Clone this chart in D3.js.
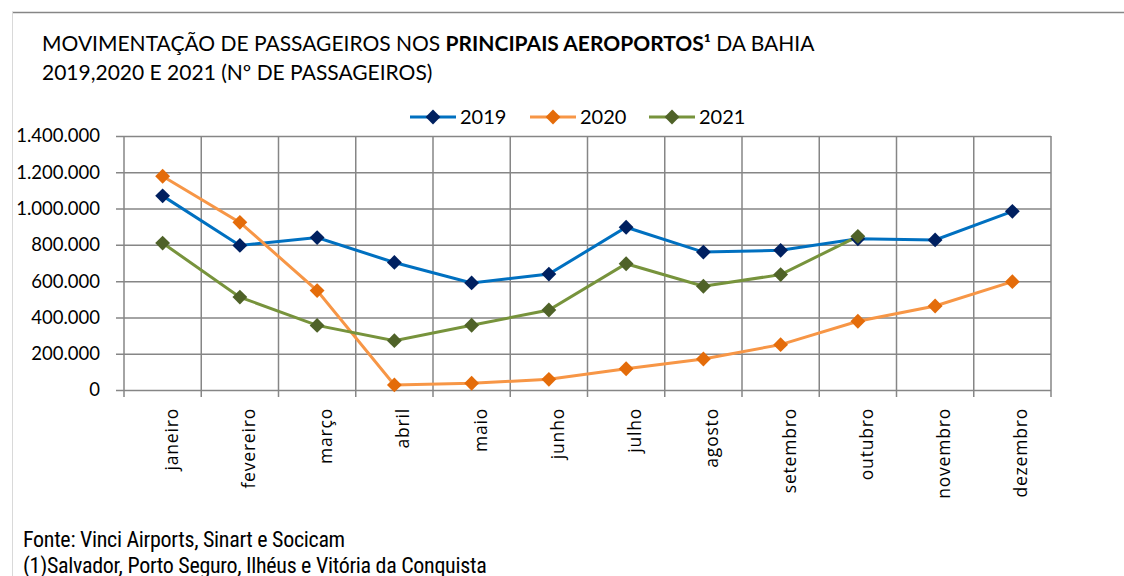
<!DOCTYPE html>
<html><head><meta charset="utf-8">
<script src="https://cdn.jsdelivr.net/npm/d3@7"></script>
<style>body{margin:0;background:#fff}svg{display:block}</style>
</head><body>
<svg id="c" width="1124" height="576"></svg>
<script>
const months = ["janeiro","fevereiro","março","abril","maio","junho","julho","agosto","setembro","outubro","novembro","dezembro"];
const v2019 = [1070000, 797000, 840000, 703000, 590000, 639000, 897000, 760000, 770000, 833000, 827000, 985000];
const v2020 = [1178000, 924000, 548000, 28000, 37000, 59000, 117000, 171000, 250000, 379000, 463000, 597000];
const v2021 = [810000, 512000, 356000, 272000, 357000, 441000, 696000, 572000, 636000, 847000];
const yTicks = [0, 200000, 400000, 600000, 800000, 1000000, 1200000, 1400000];
const seriesNames = ["2019","2020","2021"];
const lineColors = ["#0070C0","#F79646","#77933C"];
const markerColors = ["#002060","#E46C0A","#4F6228"];

const svg = d3.select("#c");
const font = "Lato, 'Open Sans', sans-serif";
// frame
svg.append("line").attr("x1",12).attr("x2",1124).attr("y1",12.5).attr("y2",12.5).attr("stroke","#868686").attr("stroke-width",1.5);
svg.append("line").attr("x1",12.5).attr("x2",12.5).attr("y1",12).attr("y2",576).attr("stroke","#d9d9d9").attr("stroke-width",1);

// title
const t1 = svg.append("text").attr("x",42).attr("y",51).attr("font-family",font).attr("font-size",21).attr("fill","#000");
t1.append("tspan").text("MOVIMENTAÇÃO DE PASSAGEIROS NOS ");
t1.append("tspan").attr("font-weight","bold").text("PRINCIPAIS AEROPORTOS¹");
t1.append("tspan").text(" DA BAHIA");
svg.append("text").attr("x",42).attr("y",80).attr("font-family",font).attr("font-size",21).text("2019,2020 E 2021 (Nº DE PASSAGEIROS)");

const x = d3.scaleBand().domain(months).range([124,1051]);
const y = d3.scaleLinear().domain([0,1400000]).range([390,136]);
const fmt = v => d3.format(",")(v).replace(/,/g,".");

// horizontal grid
const ya = svg.append("g").attr("transform","translate(124,0)")
  .call(d3.axisLeft(y).tickValues(yTicks).tickFormat(fmt).tickSize(8).tickPadding(16));
ya.select(".domain").remove();
ya.selectAll(".tick line").attr("x2", 1051-124).attr("x1",-8).attr("stroke","#868686").attr("stroke-width",1.5);
ya.selectAll(".tick text").attr("font-family",font).attr("font-size",18.5).attr("fill","#000");

// vertical grid
const xa = svg.append("g").attr("transform","translate(0,390)");
const vlines = months.map((m,i)=>x(m)).concat([x.range()[1]]);
xa.selectAll("line.v").data(vlines).join("line")
  .attr("x1",d=>d).attr("x2",d=>d).attr("y1",-254).attr("y2",7)
  .attr("stroke","#868686").attr("stroke-width",1.5);
xa.selectAll("text.m").data(months).join("text")
  .attr("transform",d=>`translate(${x(d)+x.bandwidth()/2+15},18) rotate(-90)`)
  .attr("text-anchor","end").attr("font-family","'Open Sans', sans-serif").attr("font-size",17.5).attr("letter-spacing",0.8).text(d=>d);

const data = [v2019, v2020, v2021];
const line = d3.line().x((d,i)=>x(months[i])+x.bandwidth()/2).y(d=>y(d));
data.forEach((vals,k)=>{
  svg.append("path").datum(vals).attr("d",line).attr("fill","none").attr("stroke",lineColors[k]).attr("stroke-width",3);
});
data.forEach((vals,k)=>{
  svg.append("g").selectAll("path").data(vals).join("path")
    .attr("d", d3.symbol().type(d3.symbolSquare).size(110))
    .attr("transform",(d,i)=>`translate(${x(months[i])+x.bandwidth()/2},${y(d)}) rotate(45)`)
    .attr("fill",markerColors[k]);
});

// legend
const lx = [410, 530, 649];
seriesNames.forEach((s,k)=>{
  const g = svg.append("g").attr("transform",`translate(${lx[k]},117)`);
  g.append("line").attr("x1",0).attr("x2",46).attr("stroke",lineColors[k]).attr("stroke-width",3);
  g.append("path").attr("d", d3.symbol().type(d3.symbolSquare).size(110)).attr("transform","translate(23,0) rotate(45)").attr("fill",markerColors[k]);
  g.append("text").attr("x",50).attr("y",7).attr("font-family",font).attr("font-size",20).text(s);
});

// footnotes
const ff = "'Liberation Sans Narrow', 'Roboto Condensed', Roboto, sans-serif";
svg.append("text").attr("x",23).attr("y",547).attr("font-family",ff).attr("font-size",22).attr("letter-spacing",-0.3).text("Fonte: Vinci Airports, Sinart e Socicam");
svg.append("text").attr("x",23).attr("y",573).attr("font-family",ff).attr("font-size",22).attr("letter-spacing",-0.3).text("(1)Salvador, Porto Seguro, Ilhéus e Vitória da Conquista");
</script>
</body></html>
